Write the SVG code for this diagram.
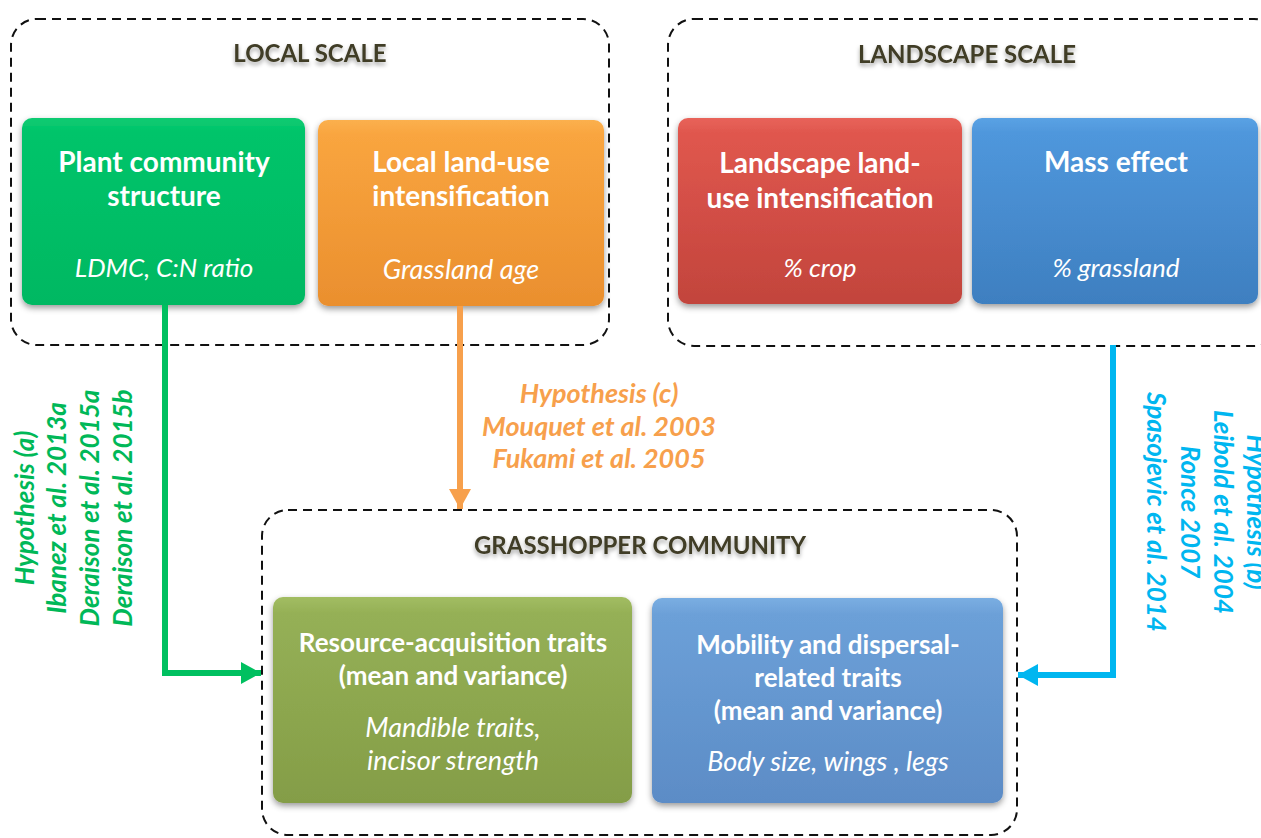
<svg xmlns="http://www.w3.org/2000/svg" width="1261" height="838" viewBox="0 0 1261 838">
<defs>
<style>
.frame{fill:none;stroke:#111;stroke-width:2;stroke-dasharray:9 6}
.hdr{font-family:Lato,"Open Sans",sans-serif;font-weight:bold;font-size:24px;fill:#403c26;text-anchor:middle;filter:url(#tshadow)}
.t{font-family:Lato,"Open Sans",sans-serif;font-weight:bold;font-size:28px;fill:#fff;text-anchor:middle}
.t2{font-family:Lato,"Open Sans",sans-serif;font-weight:bold;font-size:26px;fill:#fff;text-anchor:middle}
.s{font-family:Lato,"Open Sans",sans-serif;font-style:italic;font-size:26px;fill:#fff;text-anchor:middle}
.s2{font-family:Lato,"Open Sans",sans-serif;font-style:italic;font-size:27px;fill:#fff;text-anchor:middle}
.ref{font-family:Lato,"Open Sans",sans-serif;font-style:italic;font-weight:bold;font-size:26px;text-anchor:middle}
.box{filter:url(#shadow)}
.con{fill:none;stroke-width:6}
</style>
<filter id="shadow" x="-10%" y="-10%" width="120%" height="130%">
<feDropShadow dx="0" dy="3" stdDeviation="3" flood-color="#000" flood-opacity="0.4"/>
</filter>
<filter id="tshadow" x="-10%" y="-30%" width="120%" height="180%">
<feDropShadow dx="0" dy="3" stdDeviation="2" flood-color="#000" flood-opacity="0.35"/>
</filter>
<linearGradient id="gGreen" x1="0" y1="0" x2="0" y2="1"><stop offset="0" stop-color="#0ccb72"/><stop offset="0.08" stop-color="#02c46a"/><stop offset="1" stop-color="#00b862"/></linearGradient>
<linearGradient id="gOrange" x1="0" y1="0" x2="0" y2="1"><stop offset="0" stop-color="#fbb04e"/><stop offset="0.08" stop-color="#f9a53f"/><stop offset="1" stop-color="#ea8f2e"/></linearGradient>
<linearGradient id="gRed" x1="0" y1="0" x2="0" y2="1"><stop offset="0" stop-color="#e8635a"/><stop offset="0.08" stop-color="#e0574e"/><stop offset="1" stop-color="#c2443c"/></linearGradient>
<linearGradient id="gBlue" x1="0" y1="0" x2="0" y2="1"><stop offset="0" stop-color="#5aa2e4"/><stop offset="0.08" stop-color="#4f97dc"/><stop offset="1" stop-color="#3e7fc0"/></linearGradient>
<linearGradient id="gOlive" x1="0" y1="0" x2="0" y2="1"><stop offset="0" stop-color="#a2bd62"/><stop offset="0.08" stop-color="#95b056"/><stop offset="1" stop-color="#849d47"/></linearGradient>
<linearGradient id="gBlue2" x1="0" y1="0" x2="0" y2="1"><stop offset="0" stop-color="#7aaee2"/><stop offset="0.08" stop-color="#6ca0d8"/><stop offset="1" stop-color="#5c8cc6"/></linearGradient>
<marker id="aGreen" markerUnits="userSpaceOnUse" markerWidth="22" markerHeight="24" refX="20" refY="11" orient="auto"><path d="M0,0 L20,11 L0,22 Z" fill="#00c060"/></marker>
<marker id="aOrange" markerUnits="userSpaceOnUse" markerWidth="22" markerHeight="24" refX="20" refY="11" orient="auto"><path d="M0,0 L20,11 L0,22 Z" fill="#f7a04c"/></marker>
<marker id="aCyan" markerUnits="userSpaceOnUse" markerWidth="22" markerHeight="24" refX="20" refY="11" orient="auto"><path d="M0,0 L20,11 L0,22 Z" fill="#00b6f0"/></marker>
</defs>
<rect width="1261" height="838" fill="#fff"/>

<g id="local-scale">
<rect class="frame" x="11" y="19" width="598" height="326" rx="26"/>
<text class="hdr" x="310" y="62">LOCAL SCALE</text>
</g>
<g id="landscape-scale">
<rect class="frame" x="668" y="19" width="612" height="327" rx="26"/>
<text class="hdr" x="967" y="63">LANDSCAPE SCALE</text>
</g>
<g id="grasshopper-community">
<rect class="frame" x="262" y="510" width="755" height="325" rx="26"/>
<text class="hdr" x="640" y="554">GRASSHOPPER COMMUNITY</text>
</g>

<g id="plant-community">
<rect class="box" x="22" y="118" width="283" height="187" rx="10" fill="url(#gGreen)"/>
<text class="t" x="164" y="172">Plant community</text>
<text class="t" x="164" y="206">structure</text>
<text class="s" x="164" y="277">LDMC, C:N ratio</text>
</g>
<g id="local-land-use">
<rect class="box" x="318" y="120" width="286" height="186" rx="10" fill="url(#gOrange)"/>
<text class="t" x="461" y="172">Local land-use</text>
<text class="t" x="461" y="206">intensification</text>
<text class="s2" x="461" y="279">Grassland age</text>
</g>
<g id="landscape-land-use">
<rect class="box" x="678" y="118" width="284" height="186" rx="10" fill="url(#gRed)"/>
<text class="t" x="820" y="173">Landscape land-</text>
<text class="t" x="820" y="208">use intensification</text>
<text class="s" x="820" y="277">% crop</text>
</g>
<g id="mass-effect">
<rect class="box" x="972" y="118" width="286" height="186" rx="10" fill="url(#gBlue)"/>
<text class="t" x="1116" y="172">Mass effect</text>
<text class="s" x="1116" y="277">% grassland</text>
</g>
<g id="resource-traits">
<rect class="box" x="273" y="597" width="359" height="206" rx="10" fill="url(#gOlive)"/>
<text class="t2" x="453" y="652">Resource-acquisition traits</text>
<text class="t2" x="453" y="685">(mean and variance)</text>
<text class="s2" x="453" y="737">Mandible traits,</text>
<text class="s2" x="453" y="770">incisor strength</text>
</g>
<g id="mobility-traits">
<rect class="box" x="652" y="598" width="351" height="205" rx="10" fill="url(#gBlue2)"/>
<text class="t2" x="828" y="654">Mobility and dispersal-</text>
<text class="t2" x="828" y="687">related traits</text>
<text class="t2" x="828" y="720">(mean and variance)</text>
<text class="s2" x="828" y="771">Body size, wings , legs</text>
</g>

<g id="connectors">
<polyline class="con" points="165,305 165,673 261,673" stroke="#00c060" marker-end="url(#aGreen)"/>
<polyline class="con" points="460,306 460,509" stroke="#f7a04c" marker-end="url(#aOrange)"/>
<polyline class="con" points="1113,345 1113,675 1018,675" stroke="#00b6f0" marker-end="url(#aCyan)"/>
</g>

<g id="labels">
<text class="ref" fill="#f7a04c" style="font-size:27px"><tspan x="599" y="403">Hypothesis (c)</tspan><tspan x="599" y="436">Mouquet et al. 2003</tspan><tspan x="599" y="468">Fukami et al. 2005</tspan></text>
<text class="ref" fill="#00b858" transform="translate(0,508) rotate(-90)"><tspan x="0" y="34">Hypothesis (a)</tspan><tspan x="0" y="66">Ibanez et al. 2013a</tspan><tspan x="0" y="99">Deraison et al. 2015a</tspan><tspan x="0" y="132">Deraison et al. 2015b</tspan></text>
<text class="ref" fill="#00b6f0" transform="translate(0,512) rotate(90)"><tspan x="0" y="-1247">Hypothesis (b)</tspan><tspan x="0" y="-1214">Leibold et al. 2004</tspan><tspan x="0" y="-1181">Ronce 2007</tspan><tspan x="0" y="-1147">Spasojevic et al. 2014</tspan></text>
</g>
</svg>
